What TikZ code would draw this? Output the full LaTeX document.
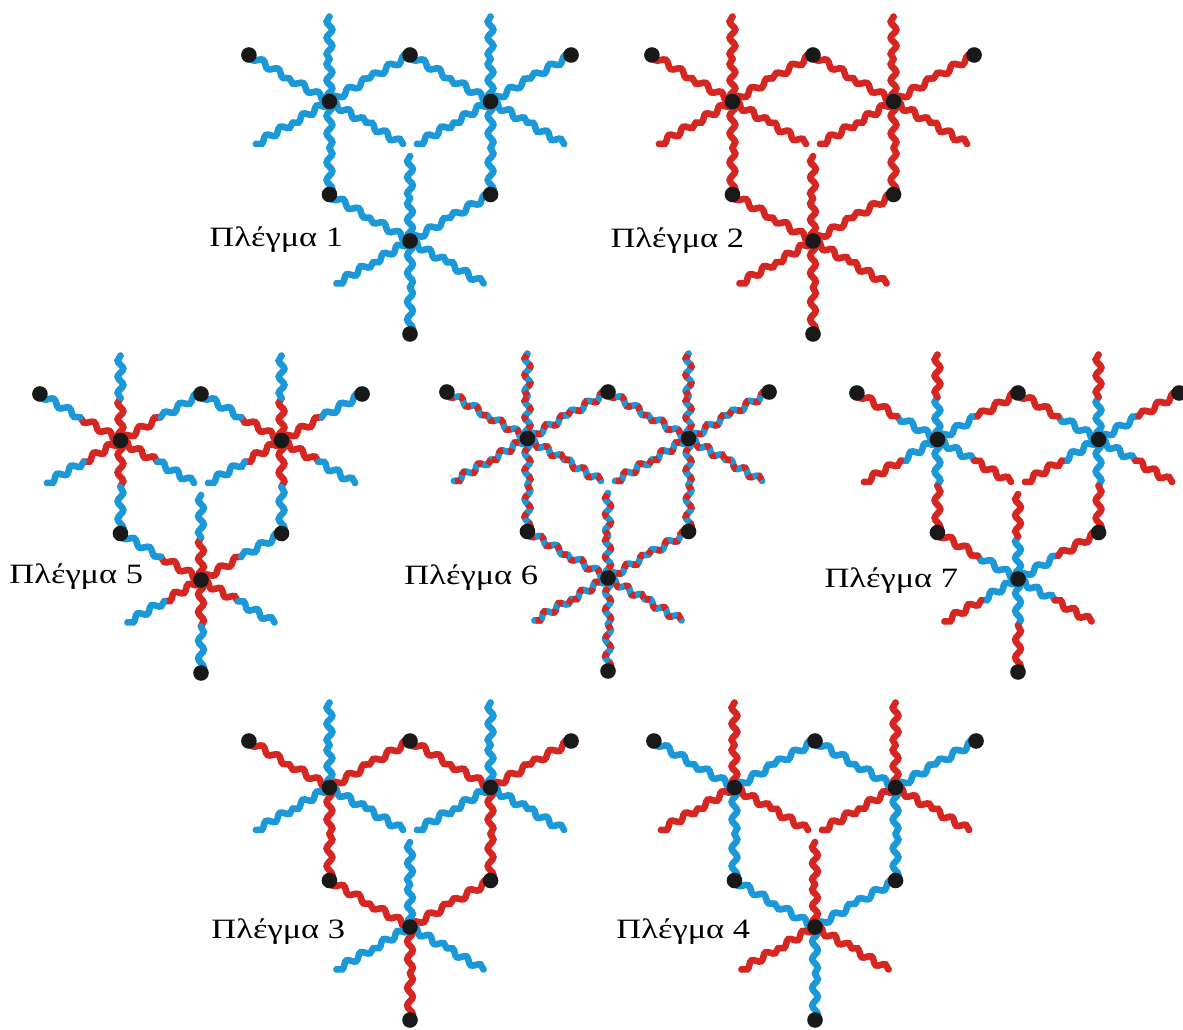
\documentclass[tikz,border=0pt]{standalone}
\usepackage{fontspec}
\setmainfont{Liberation Serif}
\usetikzlibrary{calc,decorations.pathmorphing}

\definecolor{cblue}{RGB}{26,152,216}
\definecolor{cred}{RGB}{214,38,34}

\tikzset{
  chain/.style={line width=3.3pt, line cap=round, decorate,
                decoration={snake, amplitude=1.4pt}},
  dw/.style={chain, decoration={segment length=8.83pt}},   % arm ending at a crosslink
  fw/.style={chain, decoration={segment length=8.08pt}},   % dangling arm
  bl/.style={draw=cblue},
  rd/.style={draw=cred},
  stripe/.style={draw=cred, line cap=butt, dash pattern=on 2.8pt off 2.8pt},
  dot/.style={circle, fill=black!90, inner sep=0pt, minimum size=7.8pt},
  lbl/.style={anchor=base west, inner sep=0pt, xscale=1.23, transform shape,
              font=\fontsize{14}{16}\selectfont},
}

% one wavy arm drawn as two halves (inner half near the hub, outer half)
\newcommand\arm[5]{%
  \draw[#1,#4] (#2) -- ($(#2)!0.5!(#3)$);
  \draw[#1,#5] ($(#2)!0.5!(#3)$) -- (#3);
}

% points of one network cell: hubs A,B,C; ring junctions P,Q,R; outer ends a,b,c
\newcommand\motifpts[3]{%
  \coordinate (#1O) at (#2,1029-#3);
  \coordinate (#1A) at ($(#1O)+(150:93)$);
  \coordinate (#1B) at ($(#1O)+(30:93)$);
  \coordinate (#1C) at ($(#1O)+(270:93)$);
  \coordinate (#1P) at ($(#1O)+(90:93)$);
  \coordinate (#1Q) at ($(#1O)+(330:93)$);
  \coordinate (#1R) at ($(#1O)+(210:93)$);
  \coordinate (#1a) at ($(#1O)+(150:186)$);
  \coordinate (#1b) at ($(#1O)+(30:186)$);
  \coordinate (#1c) at ($(#1O)+(270:186)$);
  \coordinate (#1A1) at ($(#1A)+(90:85)$);
  \coordinate (#1A2) at ($(#1A)+(210:85)$);
  \coordinate (#1A3) at ($(#1A)+(330:85)$);
  \coordinate (#1B1) at ($(#1B)+(90:85)$);
  \coordinate (#1B2) at ($(#1B)+(330:85)$);
  \coordinate (#1B3) at ($(#1B)+(210:85)$);
  \coordinate (#1C1) at ($(#1C)+(210:85)$);
  \coordinate (#1C2) at ($(#1C)+(330:85)$);
  \coordinate (#1C3) at ($(#1C)+(90:85)$);
}

% all arms of a cell: #2/#3 paint of linked arms (inner/outer), #4/#5 of dangling arms
\newcommand\motifarms[5]{%
  \foreach \h/\e in {A/P,A/R,A/a,B/P,B/Q,B/b,C/Q,C/R,C/c}{\arm{dw}{#1\h}{#1\e}{#2}{#3}}
  \foreach \h/\e in {A/A1,A/A2,A/A3,B/B1,B/B2,B/B3,C/C1,C/C2,C/C3}{\arm{fw}{#1\h}{#1\e}{#4}{#5}}
}

\newcommand\motifdots[1]{%
  \foreach \d in {A,B,C,P,Q,R,a,b,c}{\node[dot] (#1\d-dot) at (#1\d) {};}
}

\begin{document}
\begin{tikzpicture}[x=0.5pt,y=0.5pt]
  \fill[white] (0,0) rectangle (1183,1029);
  \useasboundingbox (0,0) rectangle (1183,1029);

  % top row
  \motifpts{m1}{410}{148}
  \motifarms{m1}{bl}{bl}{bl}{bl}
  \motifdots{m1}
  \motifpts{m2}{813}{148}
  \motifarms{m2}{rd}{rd}{rd}{rd}
  \motifdots{m2}

  % middle row
  \motifpts{m5}{201}{487}
  \motifarms{m5}{rd}{bl}{rd}{bl}
  \motifdots{m5}
  \motifpts{m6}{608}{485}
  \motifarms{m6}{bl}{bl}{bl}{bl}
  \motifarms{m6}{stripe}{stripe}{stripe}{stripe}
  \motifdots{m6}
  \motifpts{m7}{1018}{486}
  \motifarms{m7}{bl}{rd}{bl}{rd}
  \motifdots{m7}

  % bottom row
  \motifpts{m3}{410}{834}
  \motifarms{m3}{rd}{rd}{bl}{bl}
  \motifdots{m3}
  \motifpts{m4}{815}{834}
  \motifarms{m4}{bl}{bl}{rd}{rd}
  \motifdots{m4}

  % captions
  \node[lbl] (lab1) at (209,1029-247) {Πλέγμα 1};
  \node[lbl] (lab2) at (610,1029-248) {Πλέγμα 2};
  \node[lbl] (lab5) at (9,1029-584) {Πλέγμα 5};
  \node[lbl] (lab6) at (404,1029-585) {Πλέγμα 6};
  \node[lbl] (lab7) at (824,1029-588) {Πλέγμα 7};
  \node[lbl] (lab3) at (211,1029-938) {Πλέγμα 3};
  \node[lbl] (lab4) at (616,1029-938) {Πλέγμα 4};
\end{tikzpicture}
\end{document}
